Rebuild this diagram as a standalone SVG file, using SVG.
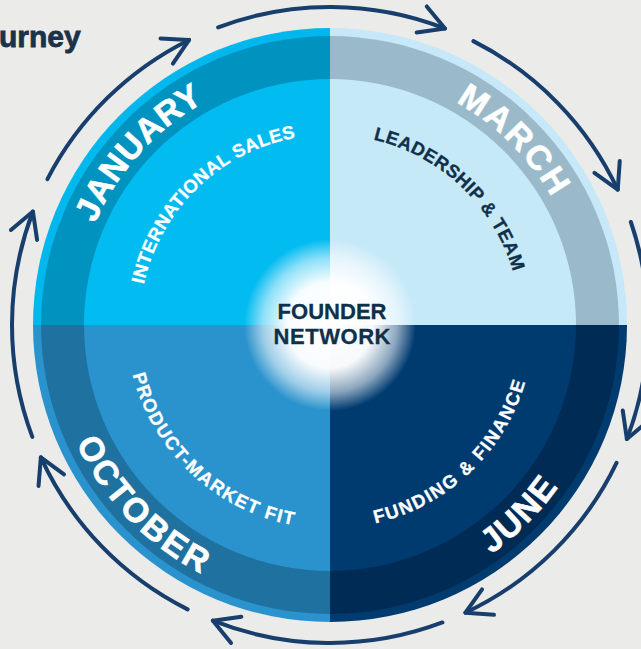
<svg xmlns="http://www.w3.org/2000/svg" width="641" height="649" viewBox="0 0 641 649">
<style>
.month{font-family:"Liberation Sans",Arial,sans-serif;font-weight:700;font-size:34px;fill:#ffffff;stroke:#ffffff;stroke-width:0.6}
.topic{font-family:"Liberation Sans",Arial,sans-serif;font-weight:700;font-size:18.5px;fill:#ffffff;stroke:#ffffff;stroke-width:0.3}
.dark{fill:#10304a;stroke:#10304a}
.arrow{fill:none;stroke:#173e6c;stroke-width:4;stroke-linecap:round;stroke-linejoin:round}
.center{font-family:"Liberation Sans",Arial,sans-serif;font-weight:700;font-size:22px;fill:#10304a;stroke:#10304a;stroke-width:0.3}
</style>
<defs>
<radialGradient id="glow" cx="330" cy="325" r="86" gradientUnits="userSpaceOnUse">
<stop offset="0" stop-color="#ffffff" stop-opacity="1"/>
<stop offset="0.5" stop-color="#ffffff" stop-opacity="0.97"/>
<stop offset="0.78" stop-color="#ffffff" stop-opacity="0.55"/>
<stop offset="1" stop-color="#ffffff" stop-opacity="0"/>
</radialGradient>
<marker id="ah" markerUnits="userSpaceOnUse" orient="auto" refX="0" refY="0" markerWidth="40" markerHeight="40" viewBox="-30 -20 40 40" overflow="visible">
<path d="M -25 -14 L 0 0 L -25 14" class="arrow"/>
</marker>
<path id="pJan" d="M 103.96 445.18 A 256 256 0 0 1 425.90 87.64"/>
<path id="pMar" d="M 221.81 92.99 A 256 256 0 0 1 562.01 433.19"/>
<path id="pOct" d="M 78.34 202.26 A 280 280 0 0 0 443.89 580.79"/>
<path id="pJun" d="M 211.67 578.77 A 280 280 0 0 0 583.77 206.67"/>
<path id="pInt" d="M 155.97 402.48 A 190.5 190.5 0 0 1 413.51 153.78"/>
<path id="pLead" d="M 245.00 154.52 A 190.5 190.5 0 0 1 504.70 400.96"/>
<path id="pPmf" d="M 142.68 245.49 A 203.5 203.5 0 0 0 422.39 506.32"/>
<path id="pFund" d="M 239.20 507.12 A 203.5 203.5 0 0 0 516.62 243.85"/>
</defs>
<rect x="0" y="0" width="641" height="649" fill="#ebebe9"/>
<text x="-1" y="47" font-family="Liberation Sans, Arial, sans-serif" font-weight="700" font-size="30" fill="#1a3349" stroke="#1a3349" stroke-width="0.8">urney</text>

<g id="january">
<path d="M330 325 L33 325 A297 297 0 0 1 330 28 Z" fill="#00b8ee"/>
<path d="M330 325 L41 325 A289 289 0 0 1 330 36 Z" fill="#0093c0"/>
<path d="M330 325 L84 325 A246 246 0 0 1 330 79 Z" fill="#02bbf0"/>
<text class="month" letter-spacing="0.5"><textPath href="#pJan" startOffset="50%" text-anchor="middle">JANUARY</textPath></text>
<text class="topic" letter-spacing="0.4"><textPath href="#pInt" startOffset="50%" text-anchor="middle">INTERNATIONAL SALES</textPath></text>
</g>
<g id="march">
<path d="M330 325 L330 28 A297 297 0 0 1 627 325 Z" fill="#c6e8f8"/>
<path d="M330 325 L330 36 A289 289 0 0 1 619 325 Z" fill="#9bbac9"/>
<path d="M330 325 L330 79 A246 246 0 0 1 576 325 Z" fill="#c6e9f8"/>
<text class="month" letter-spacing="2.5"><textPath href="#pMar" startOffset="50%" text-anchor="middle">MARCH</textPath></text>
<text class="topic dark" letter-spacing="0.4"><textPath href="#pLead" startOffset="50%" text-anchor="middle">LEADERSHIP &amp; TEAM</textPath></text>
</g>
<g id="june">
<path d="M330 325 L627 325 A297 297 0 0 1 330 622 Z" fill="#003b70"/>
<path d="M330 325 L619 325 A289 289 0 0 1 330 614 Z" fill="#002b54"/>
<path d="M330 325 L576 325 A246 246 0 0 1 330 571 Z" fill="#003b70"/>
<text class="month" letter-spacing="1.5"><textPath href="#pJun" startOffset="50%" text-anchor="middle">JUNE</textPath></text>
<text class="topic" letter-spacing="1.6"><textPath href="#pFund" startOffset="50%" text-anchor="middle">FUNDING &amp; FINANCE</textPath></text>
</g>
<g id="october">
<path d="M330 325 L330 622 A297 297 0 0 1 33 325 Z" fill="#2a92cc"/>
<path d="M330 325 L330 614 A289 289 0 0 1 41 325 Z" fill="#1f72a0"/>
<path d="M330 325 L330 571 A246 246 0 0 1 84 325 Z" fill="#2a92cc"/>
<text class="month" letter-spacing="2.5"><textPath href="#pOct" startOffset="50%" text-anchor="middle">OCTOBER</textPath></text>
<text class="topic" letter-spacing="1.4"><textPath href="#pPmf" startOffset="50%" text-anchor="middle">PRODUCT-MARKET FIT</textPath></text>
</g>
<g id="founder-network">
<circle cx="330" cy="325" r="86" fill="url(#glow)"/>
<text class="center" x="332" y="319" text-anchor="middle" textLength="109" lengthAdjust="spacing">FOUNDER</text>
<text class="center" x="332" y="344" text-anchor="middle" textLength="117" lengthAdjust="spacing">NETWORK</text>
</g>

<g id="connectors">
<path class="arrow" marker-end="url(#ah)" d="M 218.12 27.33 A 318 318 0 0 1 445.00 28.52"/>
<path class="arrow" marker-end="url(#ah)" d="M 473.38 41.16 A 318 318 0 0 1 617.74 189.60"/>
<path class="arrow" marker-end="url(#ah)" d="M 630.86 221.99 A 318 318 0 0 1 626.88 438.96"/>
<path class="arrow" marker-end="url(#ah)" d="M 616.54 462.90 A 318 318 0 0 1 465.40 612.74"/>
<path class="arrow" marker-end="url(#ah)" d="M 442.40 622.47 A 318 318 0 0 1 212.94 620.67"/>
<path class="arrow" marker-end="url(#ah)" d="M 187.61 609.34 A 318 318 0 0 1 40.86 457.38"/>
<path class="arrow" marker-end="url(#ah)" d="M 32.33 436.88 A 318 318 0 0 1 32.92 211.56"/>
<path class="arrow" marker-end="url(#ah)" d="M 47.42 179.15 A 318 318 0 0 1 189.10 39.92"/>
</g>
</svg>
